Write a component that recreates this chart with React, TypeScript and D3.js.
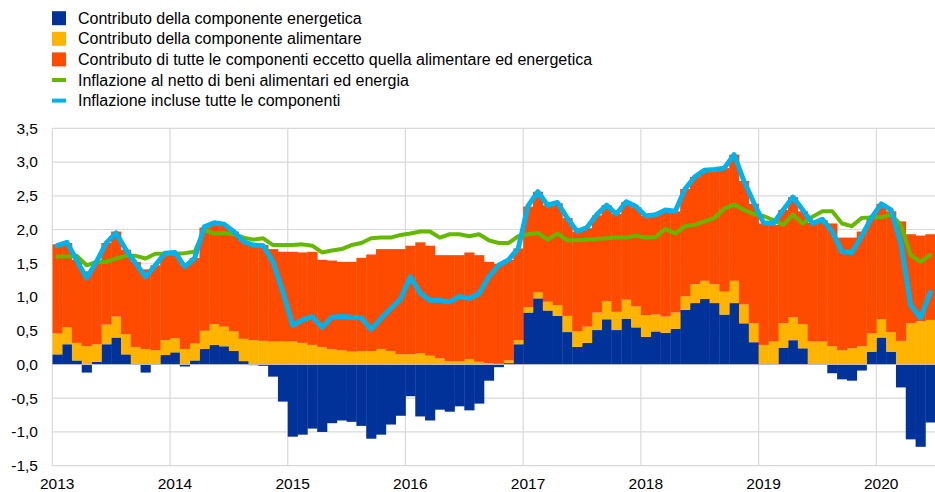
import React from "react";
import * as d3 from "d3";

// ---- Data (monthly, Jan 2013 – Jun 2020) ----
const monthCount = 90;
const yearLabels = ["2013", "2014", "2015", "2016", "2017", "2018", "2019", "2020"];
const yTickValues = [-1.5, -1.0, -0.5, 0.0, 0.5, 1.0, 1.5, 2.0, 2.5, 3.0, 3.5];

const energy = [
  0.15, 0.30, 0.06, -0.12, 0.04, 0.30, 0.40, 0.15, 0.00, -0.12, 0.00, 0.14,
  0.18, -0.03, 0.06, 0.23, 0.29, 0.27, 0.20, 0.05, -0.01, -0.02, -0.18, -0.55,
  -1.07, -1.04, -0.95, -1.00, -0.87, -0.83, -0.85, -0.91, -1.10, -1.04, -0.89, -0.76,
  -0.47, -0.77, -0.83, -0.67, -0.70, -0.62, -0.68, -0.58, -0.24, -0.04, 0.02, 0.30,
  0.77, 0.98, 0.80, 0.72, 0.48, 0.26, 0.32, 0.51, 0.67, 0.51, 0.68, 0.55,
  0.41, 0.49, 0.47, 0.53, 0.81, 0.91, 0.97, 0.91, 0.74, 0.91, 0.61, 0.33,
  0.00, 0.00, 0.25, 0.36, 0.24, 0.00, 0.00, -0.13, -0.22, -0.24, -0.09, 0.19,
  0.40, 0.19, -0.34, -1.11, -1.22, -0.86,
];

const food = [
  0.31, 0.25, 0.26, 0.27, 0.26, 0.29, 0.31, 0.30, 0.26, 0.23, 0.21, 0.22,
  0.21, 0.23, 0.25, 0.27, 0.31, 0.29, 0.29, 0.33, 0.36, 0.35, 0.34, 0.34,
  0.34, 0.32, 0.29, 0.26, 0.23, 0.21, 0.19, 0.20, 0.20, 0.23, 0.20, 0.15,
  0.15, 0.17, 0.13, 0.09, 0.05, 0.05, 0.08, 0.04, 0.02, 0.01, 0.04, 0.06,
  0.08, 0.09, 0.13, 0.16, 0.24, 0.23, 0.24, 0.26, 0.27, 0.27, 0.28, 0.31,
  0.32, 0.25, 0.24, 0.24, 0.20, 0.28, 0.27, 0.28, 0.34, 0.33, 0.28, 0.28,
  0.29, 0.34, 0.36, 0.34, 0.36, 0.34, 0.34, 0.27, 0.21, 0.24, 0.27, 0.27,
  0.27, 0.29, 0.35, 0.61, 0.64, 0.66,
];

const others = [
  1.32, 1.25, 1.23, 1.11, 1.22, 1.21, 1.26, 1.25, 1.26, 1.18, 1.26, 1.29,
  1.27, 1.25, 1.27, 1.53, 1.48, 1.51, 1.48, 1.45, 1.41, 1.42, 1.37, 1.33,
  1.33, 1.34, 1.38, 1.29, 1.31, 1.31, 1.33, 1.38, 1.43, 1.48, 1.51, 1.56,
  1.61, 1.64, 1.63, 1.53, 1.57, 1.57, 1.58, 1.58, 1.50, 1.48, 1.49, 1.36,
  1.49, 1.49, 1.43, 1.51, 1.45, 1.48, 1.46, 1.44, 1.42, 1.45, 1.45, 1.47,
  1.47, 1.48, 1.58, 1.50, 1.59, 1.59, 1.64, 1.70, 1.83, 1.87, 1.83, 1.77,
  1.80, 1.73, 1.68, 1.78, 1.67, 1.76, 1.80, 1.82, 1.67, 1.64, 1.70, 1.71,
  1.71, 1.79, 1.77, 1.32, 1.27, 1.27,
];

const core = [
  1.60, 1.60, 1.61, 1.47, 1.52, 1.52, 1.57, 1.61, 1.61, 1.57, 1.64, 1.64,
  1.64, 1.65, 1.67, 1.99, 1.94, 1.95, 1.93, 1.88, 1.85, 1.87, 1.77, 1.77,
  1.77, 1.78, 1.76, 1.66, 1.69, 1.71, 1.77, 1.80, 1.87, 1.88, 1.88, 1.92,
  1.94, 1.97, 1.97, 1.88, 1.93, 1.93, 1.90, 1.93, 1.84, 1.80, 1.80, 1.90,
  1.93, 1.95, 1.85, 1.94, 1.84, 1.84, 1.85, 1.86, 1.87, 1.88, 1.88, 1.91,
  1.88, 1.89, 2.01, 1.94, 2.05, 2.07, 2.12, 2.17, 2.31, 2.37, 2.29, 2.23,
  2.20, 2.14, 2.07, 2.22, 2.09, 2.19, 2.27, 2.27, 2.09, 2.05, 2.17, 2.18,
  2.18, 2.22, 2.07, 1.62, 1.52, 1.62,
];

const headline = [
  1.76, 1.81, 1.54, 1.28, 1.52, 1.80, 1.95, 1.70, 1.50, 1.30, 1.47, 1.65,
  1.66, 1.45, 1.57, 2.04, 2.10, 2.08, 1.97, 1.82, 1.77, 1.76, 1.52, 1.08,
  0.58, 0.66, 0.71, 0.55, 0.70, 0.71, 0.70, 0.69, 0.52, 0.68, 0.83, 0.97,
  1.30, 1.06, 0.95, 0.95, 0.93, 1.01, 0.98, 1.05, 1.30, 1.47, 1.55, 1.72,
  2.35, 2.56, 2.36, 2.40, 2.17, 1.97, 2.03, 2.22, 2.36, 2.23, 2.41, 2.34,
  2.20, 2.22, 2.29, 2.27, 2.60, 2.78, 2.88, 2.89, 2.91, 3.11, 2.72, 2.40,
  2.10, 2.09, 2.29, 2.48, 2.29, 2.09, 2.15, 1.97, 1.67, 1.66, 1.90, 2.17,
  2.38, 2.29, 1.80, 0.88, 0.69, 1.07,
];

const legendItems = [
  { label: "Contributo della componente energetica", kind: "rect", key: "energy" },
  { label: "Contributo della componente alimentare", kind: "rect", key: "food" },
  { label: "Contributo di tutte le componenti eccetto quella alimentare ed energetica", kind: "rect", key: "others" },
  { label: "Inflazione al netto di beni alimentari ed energia", kind: "line", key: "core" },
  { label: "Inflazione incluse tutte le componenti", kind: "line", key: "headline" },
];

const colors: Record<string, string> = {
  energy: "#003299",
  food: "#FFB400",
  others: "#FF4B00",
  core: "#65B800",
  headline: "#00B1EA",
};

const FONT = "'Liberation Sans', Arial, Helvetica, sans-serif";

export default function App() {
  const W = 935;
  const H = 492;
  const left = 52.3;
  const monthW = 9.81;
  const top = 128.3;
  const bottom = 465.7;

  const idx = d3.range(monthCount);
  const x = d3
    .scaleBand<number>()
    .domain(idx)
    .range([left, left + monthCount * monthW])
    .padding(0);
  const bw = x.bandwidth();
  const y = d3.scaleLinear().domain([-1.5, 3.5]).range([bottom, top]);

  const rows = idx.map((i) => ({ i, energy: energy[i], food: food[i], others: others[i] }));
  const series = d3
    .stack<any>()
    .keys(["energy", "food", "others"])
    .offset(d3.stackOffsetDiverging)(rows);

  const line = d3
    .line<number>()
    .x((_, i) => (x(i) as number) + bw / 2)
    .y((v) => y(v));

  const plotRight = W;

  return (
    <svg
      width={W}
      height={H}
      style={{ position: "absolute", left: 0, top: 0, background: "#fff" }}
      fontFamily={FONT}
    >
      <defs>
        <clipPath id="plot">
          <rect x={left} y={top - 10} width={plotRight - left} height={bottom - top + 20} />
        </clipPath>
      </defs>

      {/* horizontal grid */}
      {yTickValues.map((t) => (
        <line
          key={"h" + t}
          x1={left}
          x2={plotRight}
          y1={y(t)}
          y2={y(t)}
          stroke="#d9d9d9"
          strokeWidth={1.2}
        />
      ))}
      {/* vertical grid at each year */}
      {yearLabels.map((lab, k) => {
        const xv = x(k * 12) as number;
        return (
          <line key={"v" + lab} x1={xv} x2={xv} y1={top} y2={bottom} stroke="#d9d9d9" strokeWidth={1.2} />
        );
      })}

      {/* bars */}
      <g clipPath="url(#plot)">
        {series.map((s) => (
          <g key={s.key} fill={colors[s.key]}>
            {s.map((d, i) => {
              const y0 = y(d[0]);
              const y1 = y(d[1]);
              const h = Math.abs(y0 - y1);
              if (h < 0.01) return null;
              return (
                <rect
                  key={i}
                  x={x(i) as number}
                  width={bw + 0.35}
                  y={Math.min(y0, y1)}
                  height={h}
                />
              );
            })}
          </g>
        ))}
      </g>

      {/* zero line */}
      <line x1={left} x2={plotRight} y1={y(0)} y2={y(0)} stroke="#b8bccb" strokeWidth={1} />

      {/* lines */}
      <g clipPath="url(#plot)" fill="none" strokeLinejoin="round" strokeLinecap="round">
        <path d={line(core) || ""} stroke={colors.core} strokeWidth={4} />
        <path d={line(headline) || ""} stroke={colors.headline} strokeWidth={5} />
      </g>

      {/* y tick labels */}
      {yTickValues.map((t) => (
        <text
          key={"yl" + t}
          x={38}
          y={y(t) + 5.3}
          textAnchor="end"
          fontSize={15.5}
          fill="#000"
        >
          {d3.format(".1f")(t).replace(".", ",").replace("−", "-")}
        </text>
      ))}

      {/* x tick labels */}
      {yearLabels.map((lab, k) => (
        <text
          key={"xl" + lab}
          x={(x(k * 12) as number) + bw / 2}
          y={489}
          textAnchor="middle"
          fontSize={15.5}
          fill="#000"
        >
          {lab}
        </text>
      ))}

      {/* legend */}
      {legendItems.map((it, k) => {
        const cy = 18.2 + k * 20.6;
        return (
          <g key={it.key}>
            {it.kind === "rect" ? (
              <rect x={52} y={cy - 7} width={14} height={14} fill={colors[it.key]} />
            ) : (
              <rect x={52} y={cy - 2} width={14} height={4} fill={colors[it.key]} />
            )}
            <text x={78} y={cy + 5.5} fontSize={16} fill="#000">
              {it.label}
            </text>
          </g>
        );
      })}
    </svg>
  );
}
